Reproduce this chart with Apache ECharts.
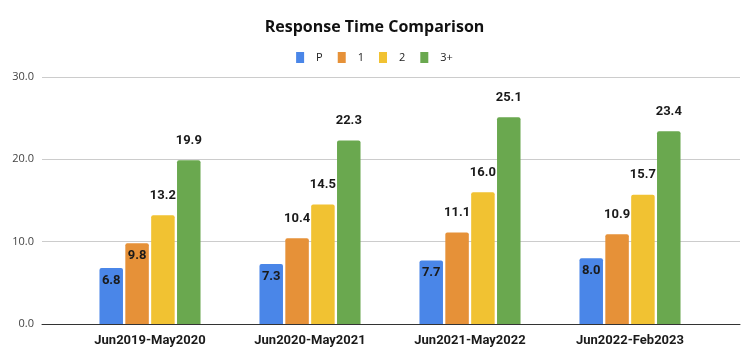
<!DOCTYPE html>
<html>
<head>
<meta charset="utf-8">
<script src="https://cdn.jsdelivr.net/npm/echarts@6/dist/echarts.min.js"></script>
<style>html,body{margin:0;padding:0;background:#fff}#c{width:749px;height:359px}</style>
</head>
<body>
<div id="c"></div>
<script>
var categories = ['Jun2019-May2020', 'Jun2020-May2021', 'Jun2021-May2022', 'Jun2022-Feb2023'];
var seriesNames = ['P', '1', '2', '3+'];
var valuesP = [6.8, 7.3, 7.7, 8.0];
var values1 = [9.8, 10.4, 11.1, 10.9];
var values2 = [13.2, 14.5, 16.0, 15.7];
var values3 = [19.9, 22.3, 25.1, 23.4];
var yTicks = [0, 10, 20, 30];
var colors = ['#4a86e8', '#e69138', '#f1c232', '#6aa84f'];

var chart = echarts.init(document.getElementById('c'));
var allValues = [valuesP, values1, values2, values3];

function mkData(arr) {
  return arr.map(function (v) {
    if (v < 10) {
      return { value: v, label: { position: 'insideTop', distance: 6, textBorderWidth: 0 } };
    }
    return v;
  });
}

var series = allValues.map(function (arr, i) {
  return {
    name: seriesNames[i],
    type: 'bar',
    xAxisIndex: 1,
    yAxisIndex: 1,
    data: mkData(arr),
    barWidth: 23.5,
    barGap: '10%',
    itemStyle: { color: colors[i], borderRadius: [2, 2, 0, 0] },
    label: {
      show: true,
      position: 'top',
      distance: 13,
      formatter: function (p) { return p.value.toFixed(1); },
      fontFamily: 'Roboto',
      fontWeight: 'bold',
      fontSize: 13,
      color: '#1a1a1a',
      textBorderColor: '#fff',
      textBorderWidth: 2
    }
  };
});

chart.setOption({
  animation: false,
  title: {
    text: 'Response Time Comparison',
    left: 'center',
    top: 14,
    textStyle: { fontFamily: 'Open Sans', fontWeight: 'bold', fontSize: 16, color: '#111' }
  },
  legend: {
    data: seriesNames,
    top: 47,
    left: 'center',
    icon: 'rect',
    itemWidth: 8,
    itemHeight: 11,
    itemGap: 15,
    textStyle: { fontFamily: 'Open Sans', fontSize: 11, color: '#222', padding: [0, 0, 0, 7] }
  },
  grid: [
    { left: 42, right: 9, top: 77, bottom: 35 },
    { left: 70, right: 39, top: 77, bottom: 35 }
  ],
  xAxis: [
    {
      type: 'category', gridIndex: 0, data: [''],
      axisLine: { show: true, lineStyle: { color: '#333', width: 1 } },
      axisTick: { show: false }, axisLabel: { show: false }
    },
    {
      type: 'category', gridIndex: 1, data: categories,
      axisLine: { show: false }, axisTick: { show: false },
      axisLabel: { fontFamily: 'Roboto', fontWeight: 'bold', fontSize: 13, color: '#1a1a1a', margin: 10 }
    }
  ],
  yAxis: [
    {
      type: 'value', gridIndex: 0, min: yTicks[0], max: yTicks[yTicks.length - 1], interval: 10,
      axisLine: { show: false }, axisTick: { show: false },
      splitLine: { lineStyle: { color: '#cccccc', width: 1 } },
      axisLabel: { fontFamily: 'Open Sans', fontSize: 11, color: '#444', margin: 8,
        formatter: function (v) { return v.toFixed(1); } }
    },
    {
      type: 'value', gridIndex: 1, min: yTicks[0], max: yTicks[yTicks.length - 1], interval: 10,
      show: false, splitLine: { show: false }
    }
  ],
  series: series
});
</script>
</body>
</html>
